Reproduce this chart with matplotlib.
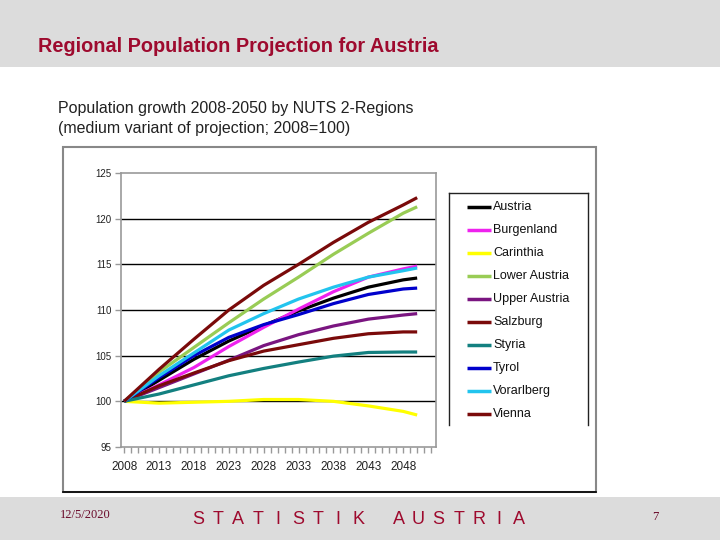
import matplotlib
matplotlib.use("Agg")
import matplotlib.pyplot as plt
from matplotlib.patches import Rectangle
from matplotlib.lines import Line2D

years = [2008, 2013, 2018, 2023, 2028, 2033, 2038, 2043, 2048, 2050]

austria       = [100, 102.3, 104.6, 106.6, 108.3, 109.9, 111.3, 112.5, 113.3, 113.5]
burgenland    = [100, 101.8, 103.7, 106.0, 108.1, 110.1, 112.0, 113.6, 114.5, 114.8]
carinthia     = [100, 99.8, 99.9, 100.0, 100.2, 100.2, 100.0, 99.5, 98.9, 98.5]
lower_austria = [100, 103.2, 105.9, 108.6, 111.2, 113.6, 116.1, 118.4, 120.6, 121.3]
upper_austria = [100, 101.5, 103.0, 104.5, 106.1, 107.3, 108.25, 109.0, 109.45, 109.6]
salzburg      = [100, 101.7, 103.1, 104.45, 105.5, 106.2, 106.9, 107.4, 107.6, 107.6]
styria        = [100, 100.8, 101.8, 102.8, 103.6, 104.3, 104.95, 105.35, 105.4, 105.4]
tyrol         = [100, 102.6, 105.0, 107.0, 108.4, 109.5, 110.7, 111.7, 112.3, 112.4]
vorarlberg    = [100, 102.8, 105.3, 107.8, 109.6, 111.2, 112.5, 113.6, 114.3, 114.6]
vienna        = [100, 103.5, 106.8, 110.0, 112.7, 115.0, 117.4, 119.6, 121.5, 122.3]

regions = ["Austria", "Burgenland", "Carinthia", "Lower Austria", "Upper Austria",
           "Salzburg", "Styria", "Tyrol", "Vorarlberg", "Vienna"]
series = [austria, burgenland, carinthia, lower_austria, upper_austria,
          salzburg, styria, tyrol, vorarlberg, vienna]
colors = ["#000000", "#ee22ee", "#ffff00", "#99cc55", "#7a1580",
          "#7a0a0a", "#138080", "#0000cc", "#22c4ee", "#7a0a0a"]

y_ticks = [95, 100, 105, 110, 115, 120, 125]
x_ticks = [2008, 2013, 2018, 2023, 2028, 2033, 2038, 2043, 2048]

plt.rcParams['font.family'] = ['Liberation Sans', 'DejaVu Sans']

fig = plt.figure(figsize=(7.2, 5.4), dpi=100)
W, H = 720, 540

def fx(px):
    return px / W

def fy(py):
    return 1 - py / H

# background bands
fig.patches.append(Rectangle((0, fy(67)), 1, 67 / H, transform=fig.transFigure,
                             facecolor="#dcdcdc", edgecolor="none", zorder=0))
fig.patches.append(Rectangle((0, 0), 1, (540 - 497) / H, transform=fig.transFigure,
                             facecolor="#dcdcdc", edgecolor="none", zorder=0))

# outer chart frame
fig.patches.append(Rectangle((fx(63), fy(492)), (596 - 63) / W, (492 - 147) / H,
                             transform=fig.transFigure, facecolor="white",
                             edgecolor="#888888", linewidth=1.5, zorder=0.5))
fig.lines.append(Line2D([fx(63), fx(596)], [fy(492), fy(492)], transform=fig.transFigure,
                        color="black", linewidth=1.2, zorder=1))

fig.text(fx(38), fy(46), "Regional Population Projection for Austria",
         fontsize=14.3, fontweight="bold", color="#9e0a2e", va="center", ha="left")
fig.text(fx(58), fy(109), "Population growth 2008-2050 by NUTS 2-Regions",
         fontsize=11.5, color="#222222", va="center", ha="left")
fig.text(fx(58), fy(129), "(medium variant of projection; 2008=100)",
         fontsize=11.5, color="#222222", va="center", ha="left")

fig.text(fx(60), fy(515), "12/5/2020", fontsize=9, family="Liberation Serif",
         color="#6a0a2a", va="center", ha="left")
footer = "STATISTIK AUSTRIA"
pos = 198
for ch in footer:
    if ch != " ":
        fig.text(fx(pos), fy(519), ch, fontsize=13, color="#9e0a2e",
                 va="center", ha="center")
    pos += 20.05
fig.text(fx(655), fy(517), "7", fontsize=9, family="Liberation Serif",
         color="#6a0a2a", va="center", ha="center")

ax = fig.add_axes([fx(121), fy(447), (436 - 121) / W, (447 - 173) / H])
ax.set_zorder(2)
for s, c in zip(series, colors):
    ax.plot(years, s, color=c, linewidth=2.3, solid_capstyle="butt", zorder=3)

ax.set_xlim(2007.55, 2052.7)
ax.set_ylim(95, 125)
ax.set_yticks(y_ticks)
ax.set_xticks(x_ticks)
ax.set_xticks(list(range(2008, 2053)), minor=True)
for yv in y_ticks[1:-1]:
    ax.axhline(yv, color="black", linewidth=1.0, zorder=1)
for sp in ax.spines.values():
    sp.set_color("#999999")
    sp.set_linewidth(1.2)
ax.tick_params(axis="y", labelsize=7, colors="#999999", labelcolor="#222222",
               length=4, width=1, direction="out", pad=3)
ax.tick_params(axis="x", which="major", labelsize=8.5, colors="#999999",
               labelcolor="#222222", length=4, width=1, direction="out", pad=6)
ax.tick_params(axis="x", which="minor", colors="#999999", length=4, width=1,
               direction="out")

# legend
lg_left, lg_right, lg_top, lg_bot = 449, 588, 193, 425
for xs, ys in [([lg_left, lg_left], [lg_top, lg_bot]),
               ([lg_left, lg_right], [lg_top, lg_top]),
               ([lg_right, lg_right], [lg_top, lg_bot])]:
    fig.lines.append(Line2D([fx(v) for v in xs], [fy(v) for v in ys],
                            transform=fig.transFigure, color="#222222", linewidth=1.0))
for i, (name, c) in enumerate(zip(regions, colors)):
    yy = 207 + i * 23
    fig.lines.append(Line2D([fx(467), fx(491)], [fy(yy), fy(yy)],
                            transform=fig.transFigure, color=c, linewidth=2.5,
                            solid_capstyle="butt"))
    fig.text(fx(493), fy(yy), name, fontsize=9, color="#111111",
             va="center", ha="left")

fig.savefig("out.png", dpi=100)
